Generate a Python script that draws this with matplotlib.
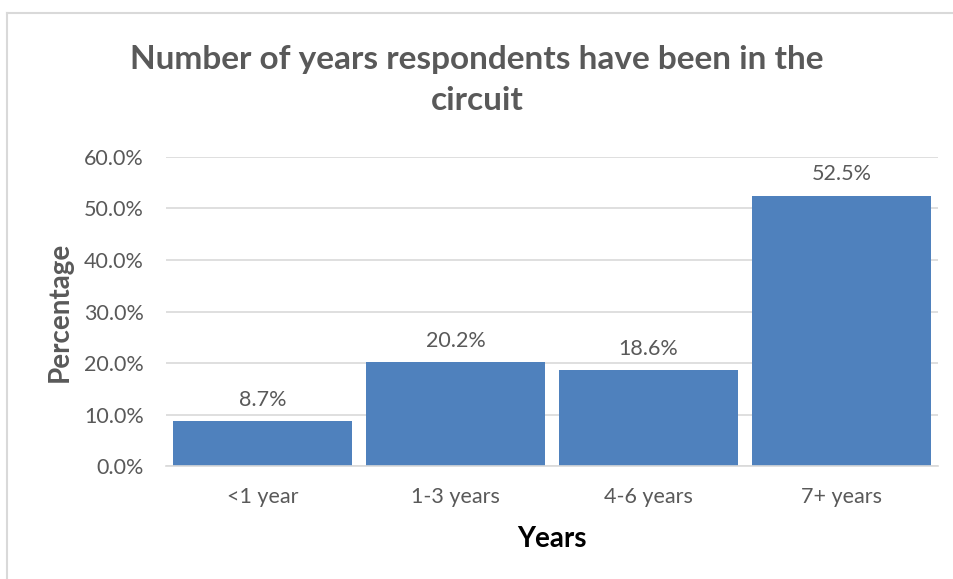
import matplotlib
matplotlib.use("Agg")
import matplotlib.pyplot as plt
from matplotlib.lines import Line2D

categories = ["<1 year", "1-3 years", "4-6 years", "7+ years"]
values = [8.7, 20.2, 18.6, 52.5]
yticks = [0, 10, 20, 30, 40, 50, 60]

TEXT = "#595959"
GRID = "#d9d9d9"
BAR = "#4f81bd"
FONT = ["Lato", "DejaVu Sans"]

plt.rcParams["font.family"] = FONT

fig = plt.figure(figsize=(9.54, 5.79), dpi=100)
ax = fig.add_axes([0.174, 0.195, 0.809, 0.534])

x = range(len(categories))
bars = ax.bar(x, values, width=0.927, color=BAR, zorder=2)

for xi, v in zip(x, values):
    ax.annotate(f"{v:.1f}%", (xi, v), xytext=(0, 8), textcoords="offset points",
                ha="center", va="bottom", fontsize=15.5, color=TEXT)

ax.set_ylim(0, 60)
ax.set_xlim(-0.5, len(categories) - 0.5)
ax.set_yticks(yticks)
ax.set_yticklabels([f"{t:.1f}%" for t in yticks])
ax.set_xticks(list(x))
ax.set_xticklabels(categories)
ax.tick_params(axis="both", length=0, labelsize=15.5, labelcolor=TEXT)
ax.tick_params(axis="y", pad=16)
ax.tick_params(axis="x", pad=15)

ax.grid(axis="y", color=GRID, linewidth=1.2, zorder=0)
for s in ["top", "right", "left"]:
    ax.spines[s].set_visible(False)
ax.spines["bottom"].set_color(GRID)
ax.spines["bottom"].set_linewidth(1.2)

ax.set_ylabel("Percentage", fontsize=20, fontweight="bold", color=TEXT, labelpad=8)
ax.set_xlabel("Years", fontsize=20, fontweight="bold", color="#000000", labelpad=14)

fig.text(0.5, 0.861, "Number of years respondents have been in the\ncircuit",
         ha="center", va="center", fontsize=24, fontweight="bold", color=TEXT,
         linespacing=1.5)

# chart area frame (top and left edges visible)
fig.add_artist(Line2D([7/954, 7/954], [0, 1 - 13/579], transform=fig.transFigure,
                      color=GRID, linewidth=1.5))
fig.add_artist(Line2D([7/954, 1], [1 - 13/579, 1 - 13/579], transform=fig.transFigure,
                      color=GRID, linewidth=1.5))

fig.savefig("out.png", dpi=100, facecolor="white")
